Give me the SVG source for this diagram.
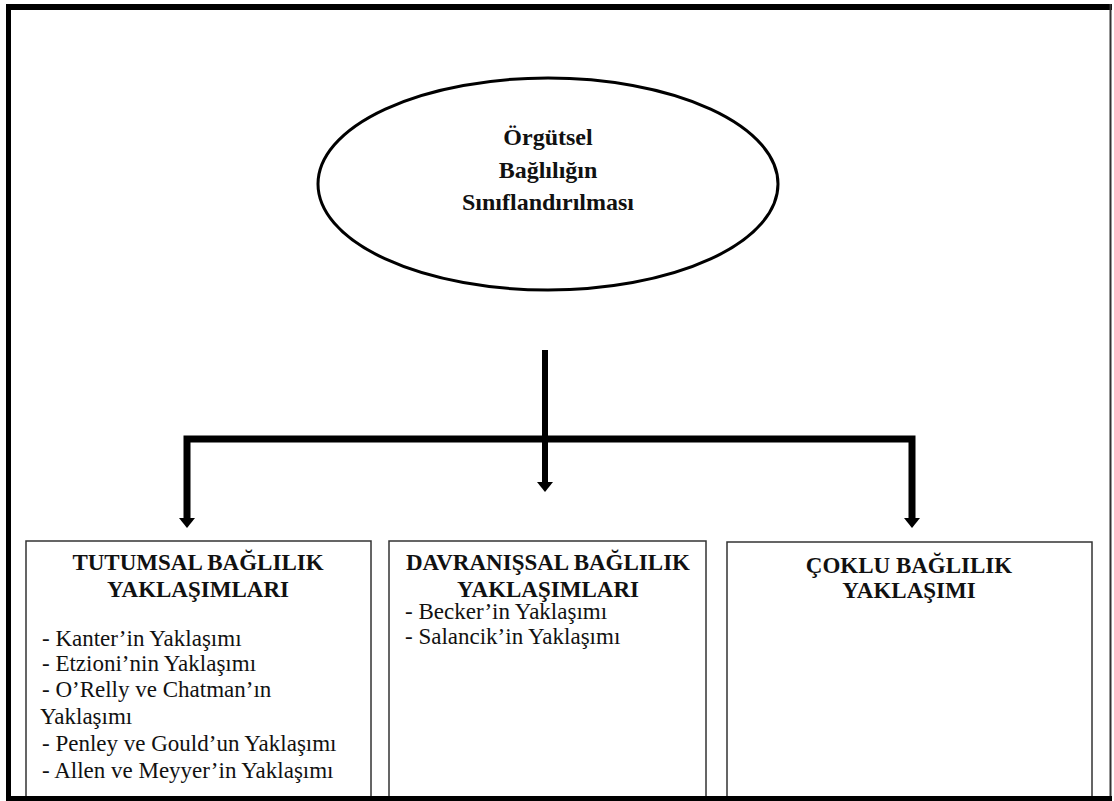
<svg xmlns="http://www.w3.org/2000/svg" width="1114" height="801" viewBox="0 0 1114 801">
<defs>
<style>
text{font-family:"Liberation Serif","Times New Roman",serif;fill:#111;}
.h{font-weight:bold;font-size:23px;text-anchor:middle;}
.e{font-weight:bold;font-size:24px;text-anchor:middle;}
.l{font-size:23px;}
.box{fill:#fff;stroke:#333;stroke-width:1.5;}
.conn{fill:none;stroke:#000;stroke-width:6;}
.bar{fill:none;stroke:#000;stroke-width:7;}
</style>
</defs>
<rect x="0" y="0" width="1114" height="801" fill="#fff"/>
<g id="frame">
<line x1="6" y1="7" x2="1112" y2="7" stroke="#000" stroke-width="6"/>
<line x1="8.5" y1="4" x2="8.5" y2="801" stroke="#000" stroke-width="5"/>
<line x1="1110.5" y1="4" x2="1110.5" y2="801" stroke="#333" stroke-width="2"/>
</g>
<g id="root">
<ellipse cx="548" cy="184" rx="230" ry="106" fill="#fff" stroke="#000" stroke-width="3"/>
<text class="e" x="548" y="145">Örgütsel</text>
<text class="e" x="548" y="178">Bağlılığın</text>
<text class="e" x="548" y="210">Sınıflandırılması</text>
</g>
<g id="connectors">
<line class="conn" x1="545" y1="350" x2="545" y2="484"/>
<path d="M537,482 L553,482 L545,492 Z" fill="#000"/>
<polyline class="bar" points="187,520 187,439 912,439 912,520"/>
<path d="M179,518 L195,518 L187,528 Z" fill="#000"/>
<path d="M904,518 L920,518 L912,528 Z" fill="#000"/>
</g>
<g id="tutumsal">
<rect class="box" x="26" y="541" width="345" height="270"/>
<text class="h" x="198" y="570">TUTUMSAL BAĞLILIK</text>
<text class="h" x="198" y="597">YAKLAŞIMLARI</text>
<text class="l" x="42" y="646">- Kanter’in Yaklaşımı</text>
<text class="l" x="42" y="671">- Etzioni’nin Yaklaşımı</text>
<text class="l" x="42" y="697">- O’Relly ve Chatman’ın</text>
<text class="l" x="40" y="724">Yaklaşımı</text>
<text class="l" x="42" y="751">- Penley ve Gould’un Yaklaşımı</text>
<text class="l" x="42" y="778">- Allen ve Meyyer’in Yaklaşımı</text>
</g>
<g id="davranissal">
<rect class="box" x="389" y="541" width="317" height="270"/>
<text class="h" x="548" y="570">DAVRANIŞSAL BAĞLILIK</text>
<text class="h" x="548" y="597">YAKLAŞIMLARI</text>
<text class="l" x="405" y="619">- Becker’in Yaklaşımı</text>
<text class="l" x="405" y="644">- Salancik’in Yaklaşımı</text>
</g>
<g id="coklu">
<rect class="box" x="727" y="542" width="365" height="270"/>
<text class="h" x="909" y="573">ÇOKLU BAĞLILIK</text>
<text class="h" x="909" y="598">YAKLAŞIMI</text>
</g>
<g id="frame-bottom">
<line x1="6" y1="798.5" x2="1112" y2="798.5" stroke="#000" stroke-width="5"/>
</g>
</svg>
